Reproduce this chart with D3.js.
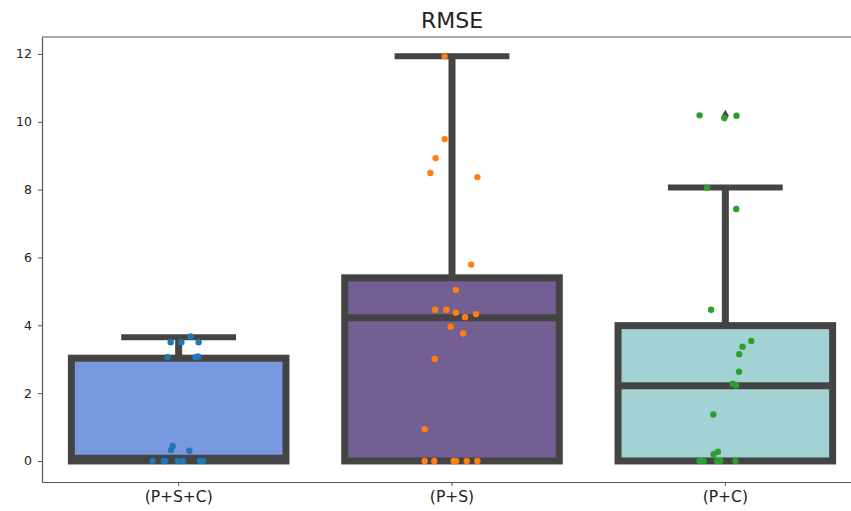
<!DOCTYPE html>
<html>
<head>
<meta charset="utf-8">
<script src="https://cdn.jsdelivr.net/npm/d3@7"></script>
<style>
  body { margin: 0; background: #fff; }
  text { font-family: "DejaVu Sans", sans-serif; fill: #222; }
</style>
</head>
<body>
<div id="boxChart"></div>
<script>
// categories and box statistics
var categories = ["(P+S+C)", "(P+S)", "(P+C)"];
var boxColors = ["#7898e0", "#735f92", "#a2d2d3"];
var pointColors = ["#1f77b4", "#ff7f0e", "#2ca02c"];
var q1 = [0, 0, 0];
var medians = [0.08, 4.22, 2.22];
var q3 = [3.03, 5.40, 3.99];
var whiskerLow = [0, 0, 0];
var whiskerHigh = [3.65, 11.93, 8.06];
var outliers = [[], [], [10.18]];
var yTicks = [0, 2, 4, 6, 8, 10, 12];

// strip plot values and jitter (fraction of category width)
var values1 = [3.67, 3.5, 3.5, 3.5, 3.06, 3.06, 3.08, 0.44, 0.32, 0.3, 0, 0, 0, 0, 0, 0, 0];
var jitter1 = [0.044, -0.029, 0.010, 0.073, -0.040, 0.061, 0.071, -0.022, -0.028, 0.039, -0.095, -0.054, -0.049, -0.003, 0.015, 0.078, 0.090];
var values2 = [11.93, 9.49, 8.93, 8.49, 8.37, 5.79, 5.04, 4.46, 4.46, 4.37, 4.24, 4.33, 3.96, 3.76, 3.01, 0.94, 0, 0, 0, 0, 0, 0];
var jitter2 = [-0.027, -0.027, -0.060, -0.079, 0.093, 0.070, 0.014, -0.062, -0.021, 0.014, 0.048, 0.088, -0.005, 0.041, -0.063, -0.100, -0.100, -0.065, 0.006, 0.015, 0.054, 0.093];
var values3 = [10.19, 10.11, 10.18, 8.06, 7.43, 4.46, 3.54, 3.37, 3.15, 2.63, 2.28, 2.23, 1.37, 0.27, 0.20, 0, 0, 0, 0, 0];
var jitter3 = [-0.094, -0.004, 0.041, -0.067, 0.040, -0.052, 0.095, 0.063, 0.051, 0.050, 0.027, 0.039, -0.044, -0.027, -0.043, -0.094, -0.079, -0.030, -0.018, 0.037];

var pointValues = [values1, values2, values3];
var pointJitter = [jitter1, jitter2, jitter3];

var width = 851, height = 511;
var margin = {top: 37, right: -11, bottom: 29, left: 42};
var lineColor = "#444";

var svg = d3.select("#boxChart")
    .append("svg")
    .attr("width", width)
    .attr("height", height);

var x = d3.scaleBand()
    .domain(categories)
    .range([margin.left, width - margin.right])
    .padding(0);

var y = d3.scaleLinear()
    .domain([-0.62, 12.5])
    .range([height - margin.bottom, margin.top]);

var boxW = x.bandwidth() * 0.785;
var capW = x.bandwidth() * 0.42;

// boxes
var boxes = svg.append("g");
categories.forEach(function(c, i) {
    var cx = x(c) + x.bandwidth() / 2;
    var g = boxes.append("g");
    // whiskers
    g.append("line")
        .attr("x1", cx).attr("x2", cx)
        .attr("y1", y(q3[i])).attr("y2", y(whiskerHigh[i]))
        .attr("stroke", lineColor).attr("stroke-width", 7);
    g.append("line")
        .attr("x1", cx).attr("x2", cx)
        .attr("y1", y(q1[i])).attr("y2", y(whiskerLow[i]))
        .attr("stroke", lineColor).attr("stroke-width", 7);
    g.append("line")
        .attr("x1", cx - capW / 2).attr("x2", cx + capW / 2)
        .attr("y1", y(whiskerHigh[i])).attr("y2", y(whiskerHigh[i]))
        .attr("stroke", lineColor).attr("stroke-width", 6);
    g.append("rect")
        .attr("x", cx - boxW / 2)
        .attr("width", boxW)
        .attr("y", y(q3[i]))
        .attr("height", y(q1[i]) - y(q3[i]))
        .attr("fill", boxColors[i])
        .attr("stroke", lineColor)
        .attr("stroke-width", 7);
    g.append("line")
        .attr("x1", cx - boxW / 2).attr("x2", cx + boxW / 2)
        .attr("y1", y(medians[i])).attr("y2", y(medians[i]))
        .attr("stroke", lineColor).attr("stroke-width", 7);
    // fliers
    g.selectAll(".flier")
        .data(outliers[i])
        .enter().append("path")
        .attr("class", "flier")
        .attr("d", "M0,-6L3.5,0L0,6L-3.5,0Z")
        .attr("transform", function(d) { return "translate(" + cx + "," + y(d) + ")"; })
        .attr("fill", lineColor);
});

// strip points
categories.forEach(function(c, i) {
    var cx = x(c) + x.bandwidth() / 2;
    svg.append("g")
        .selectAll("circle")
        .data(pointValues[i])
        .enter().append("circle")
        .attr("cx", function(d, j) { return cx + pointJitter[i][j] * x.bandwidth(); })
        .attr("cy", function(d) { return y(d); })
        .attr("r", 3.2)
        .attr("fill", pointColors[i]);
});

// axes
var yAxis = svg.append("g")
    .attr("transform", "translate(" + margin.left + ",0)")
    .call(d3.axisLeft(y).tickValues(yTicks).tickSize(4).tickPadding(6).tickSizeOuter(0));
yAxis.selectAll("text").style("font-size", "12.5px");

var xAxis = svg.append("g")
    .attr("transform", "translate(0," + (height - margin.bottom) + ")")
    .call(d3.axisBottom(x).tickSize(4).tickPadding(5).tickSizeOuter(0));
xAxis.selectAll("text").style("font-size", "15.5px");

svg.selectAll(".domain").attr("stroke", "#555").attr("stroke-width", 1.2);
svg.selectAll(".tick line").attr("stroke", "#555");

// top spine
svg.append("line")
    .attr("x1", margin.left).attr("x2", width - margin.right)
    .attr("y1", margin.top).attr("y2", margin.top)
    .attr("stroke", "#555").attr("stroke-width", 1.2);

svg.append("text")
    .attr("x", (margin.left + width - margin.right) / 2)
    .attr("y", 28)
    .attr("text-anchor", "middle")
    .style("font-size", "22px")
    .text("RMSE");
</script>
</body>
</html>
